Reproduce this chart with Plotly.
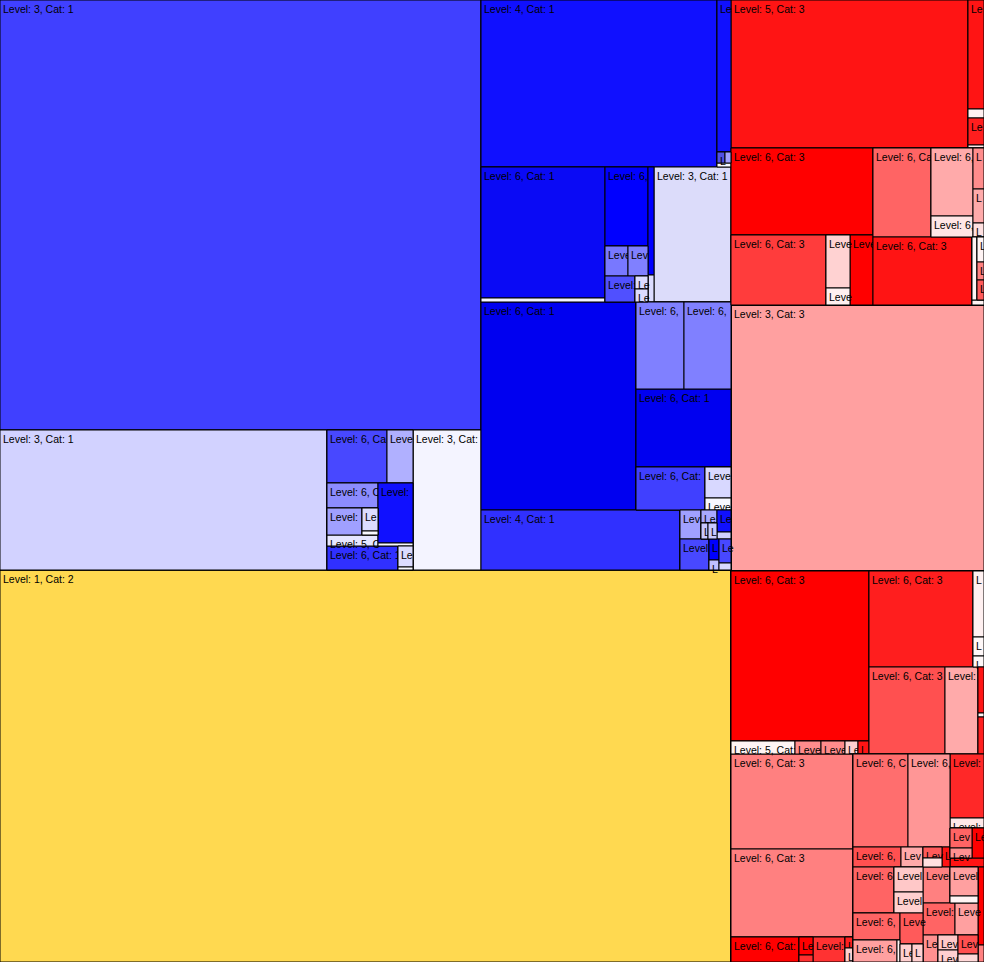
import plotly.graph_objects as go

L6B = "Level: 6, Cat: 1"
L6R = "Level: 6, Cat: 3"
FONT_SIZE = 10.5
WIDTH, HEIGHT = 984, 962

# ---- Cat 1 (blue) leaves: path, value (area), colour, label ----
blue_paths = [
    "L/B/BL/B1", "L/B/BL/Bb/B2",
    "L/B/BL/Bb/B3/t/a", "L/B/BL/Bb/B3/t/b",
    "L/B/BL/Bb/B3/m/l/c", "L/B/BL/Bb/B3/m/l/m/e", "L/B/BL/Bb/B3/m/l/m/r/f", "L/B/BL/Bb/B3/m/l/m/r/g",
    "L/B/BL/Bb/B3/m/l/h", "L/B/BL/Bb/B3/m/r/d", "L/B/BL/Bb/B3/m/r/i",
    "L/B/BL/Bb/B3/b/j", "L/B/BL/Bb/B3/b/r/k", "L/B/BL/Bb/B3/b/r/l",
    "L/B/BL/Bb/B4",
    "L/B/BR/r1/a", "L/B/BR/r1/s/s1", "L/B/BR/r1/s/s2/a", "L/B/BR/r1/s/s2/b", "L/B/BR/r1/s/s3",
    "L/B/BR/r2/c1/a", "L/B/BR/r2/c1/w",
    "L/B/BR/r2/c2/m1", "L/B/BR/r2/c2/m2/a", "L/B/BR/r2/c2/m2/b", "L/B/BR/r2/c2/m3/a",
    "L/B/BR/r2/c2/m3/b/x", "L/B/BR/r2/c2/m3/b/y",
    "L/B/BR/r2/c3/q1", "L/B/BR/r2/c3/q2", "L/B/BR/r2/c4",
    "L/B/BR/r3/a", "L/B/BR/r3/r/t/u1", "L/B/BR/r3/r/t/u2", "L/B/BR/r3/r/u3",
    "L/B/BR/r3/r/b/u4", "L/B/BR/r3/r/b/s/u5", "L/B/BR/r3/r/b/s/u6",
    "L/B/BR/r4/a", "L/B/BR/r4/r/t/v1", "L/B/BR/r4/r/t/b/v2", "L/B/BR/r4/r/t/b/c/v3",
    "L/B/BR/r4/r/t/b/c/v4", "L/B/BR/r4/r/t/c/v5", "L/B/BR/r4/r/t/c/v6",
    "L/B/BR/r4/r/b/v7", "L/B/BR/r4/r/b/b/v8", "L/B/BR/r4/r/b/b/v9",
    "L/B/BR/r4/r/b/c/v10", "L/B/BR/r4/r/b/c/v11",
]
blue_values = [
    206830, 45780,
    3180, 1378,
    1275, 945, 368, 64,
    561, 2100, 105,
    1704, 315, 45,
    9520,
    39412, 2128, 88, 66, 56,
    16244, 496,
    3397, 690, 600, 780,
    169, 169,
    648, 162, 10395,
    32240, 4176, 4089, 7410,
    2967, 806, 312,
    11940, 609, 208, 112,
    144, 308, 98,
    899, 210, 100,
    288, 84,
]
blue_colors = [
    "#4040ff", "#d2d2ff",
    "#4848ff", "#b0b0ff",
    "#8c8cff", "#a0a0ff", "#dcdcff", "#f8f8ff",
    "#e6e6ff", "#1010ff", "#f8f8ff",
    "#3030ff", "#dcdcff", "#f8f8ff",
    "#f4f4ff",
    "#1010ff", "#1010ff", "#5050e6", "#a0a0ff", "#f8f8ff",
    "#0a0af5", "#f4f4ff",
    "#0000ff", "#7878ff", "#8080ff", "#5050ff",
    "#dcdcff", "#dcdcff",
    "#0000ff", "#dcdcff", "#dcdcfa",
    "#0000f0", "#8080ff", "#8080ff", "#0000f0",
    "#4040ff", "#d8d8ff", "#f8f8ff",
    "#3030ff", "#a0a0ff", "#a8a8ff", "#c8c8ff",
    "#c8c8ff", "#1010ff", "#d0d0ff",
    "#4848ff", "#0000ff", "#c0c0ff",
    "#4848ff", "#d8d8ff",
]
blue_labels = [
    "Level: 3, Cat: 1", "Level: 3, Cat: 1",
    L6B, L6B,
    L6B, L6B, L6B, L6B,
    "Level: 5, Cat: 1", L6B, L6B,
    L6B, L6B, L6B,
    "Level: 3, Cat: 1",
    "Level: 4, Cat: 1", L6B, L6B, L6B, L6B,
    L6B, "Level: 5, Cat: 1",
    L6B, L6B, L6B, L6B,
    L6B, L6B,
    L6B, L6B, "Level: 3, Cat: 1",
    L6B, L6B, L6B, L6B,
    L6B, L6B, L6B,
    "Level: 4, Cat: 1", L6B, L6B, L6B,
    L6B, L6B, L6B,
    L6B, L6B, L6B,
    L6B, L6B,
]

# ---- Cat 2 (yellow) ----
yellow_paths = ["L/Y"]
yellow_values = [286552]
yellow_colors = ["#ffd950"]
yellow_labels = ["Level: 1, Cat: 2"]

# ---- Cat 3 (red) leaves ----
red_paths = [
    "R/t/0/r1/w1", "R/t/0/r1/s/x1", "R/t/0/r1/s/x2", "R/t/0/r1/s/x3", "R/t/0/r1/s/x4",
    "R/t/0/r2/L/y1", "R/t/0/r2/L/b/y2", "R/t/0/r2/L/b/m/y3", "R/t/0/r2/L/b/m/y4", "R/t/0/r2/L/b/y5",
    "R/t/0/r2/R/t/z1", "R/t/0/r2/R/t/m/z2", "R/t/0/r2/R/t/m/z3",
    "R/t/0/r2/R/t/s/z4", "R/t/0/r2/R/t/s/z5", "R/t/0/r2/R/t/s/z6",
    "R/t/0/r2/R/b/z7", "R/t/0/r2/R/b/s/a/z8", "R/t/0/r2/R/b/s/a/c/z9",
    "R/t/0/r2/R/b/s/a/c/z10", "R/t/0/r2/R/b/s/a/c/z11", "R/t/0/r2/R/b/s/z12",
    "R/m",
    "R/b/0/r1/L/p1", "R/b/0/r1/L/b/p2", "R/b/0/r1/L/b/p3", "R/b/0/r1/L/b/p4",
    "R/b/0/r1/L/b/p5", "R/b/0/r1/L/b/p6",
    "R/b/0/r1/R/t/o1", "R/b/0/r1/R/t/s/o2", "R/b/0/r1/R/t/s/o3", "R/b/0/r1/R/t/s/o4",
    "R/b/0/r1/R/b/o5", "R/b/0/r1/R/b/o6", "R/b/0/r1/R/b/s/o7", "R/b/0/r1/R/b/s/o8",
    "R/b/0/r1/R/b/s/o9",
    "R/b/0/r2/L/c1", "R/b/0/r2/L/c2", "R/b/0/r2/L/b/c3", "R/b/0/r2/L/b/s/c4",
    "R/b/0/r2/L/b/s/c5", "R/b/0/r2/L/b/c6", "R/b/0/r2/L/b/e/c7", "R/b/0/r2/L/b/e/c8",
    "R/b/0/r2/R/t/a/t/n1", "R/b/0/r2/R/t/a/t/n2", "R/b/0/r2/R/t/a/b/n3",
    "R/b/0/r2/R/t/a/b/n4", "R/b/0/r2/R/t/a/b/s/n5", "R/b/0/r2/R/t/a/b/s/n6",
    "R/b/0/r2/R/t/a/b/n7",
    "R/b/0/r2/R/t/c/n8", "R/b/0/r2/R/t/c/n9", "R/b/0/r2/R/t/c/d/s/n10",
    "R/b/0/r2/R/t/c/d/s/n11", "R/b/0/r2/R/t/c/d/n12", "R/b/0/r2/R/t/c/n13",
    "R/b/0/r2/R/b/a/t/k1", "R/b/0/r2/R/b/a/t/s/k2", "R/b/0/r2/R/b/a/t/s/k3",
    "R/b/0/r2/R/b/a/b/l/k4", "R/b/0/r2/R/b/a/b/l/d/k5", "R/b/0/r2/R/b/a/b/l/d/k6",
    "R/b/0/r2/R/b/a/b/r/k7", "R/b/0/r2/R/b/a/b/r/d/k8", "R/b/0/r2/R/b/a/b/r/d/k9",
    "R/b/0/r2/R/b/c/r1/k10", "R/b/0/r2/R/b/c/r1/s/k11", "R/b/0/r2/R/b/c/r1/s/k12",
    "R/b/0/r2/R/b/c/r2/k13", "R/b/0/r2/R/b/c/r2/k14",
    "R/b/0/r2/R/b/c/r3/k15", "R/b/0/r2/R/b/c/r3/s/k16", "R/b/0/r2/R/b/c/r3/s/k17",
    "R/b/0/r2/R/b/c/r3/u/k18", "R/b/0/r2/R/b/c/r3/u/k19",
    "R/b/0/r2/R/b/e/k20", "R/b/0/r2/R/b/e/k21",
]
red_values = [
    35076, 1744, 144, 432, 48,
    12354, 6650, 1272, 408, 1610,
    5162, 2856, 882,
    451, 374, 154,
    6732, 315, 175,
    126, 140, 60,
    67298,
    23460, 832, 338, 312,
    169, 143,
    9984, 726, 209, 121,
    6612, 2871, 276, 24,
    222,
    11590, 10736, 1700, 252,
    98, 800, 88, 112,
    5115, 3906, 960,
    440, 209, 171,
    160,
    2176, 340, 440,
    220, 360, 306,
    1886, 725, 609,
    1269, 968, 66,
    713, 216, 198,
    972, 812, 196,
    1024, 736,
    405, 300, 240,
    380, 160,
    468, 102,
]
red_colors = [
    "#ff1414", "#ff1414", "#fff0f0", "#ff1e1e", "#ffe8e8",
    "#ff0000", "#ff3c3c", "#ffd2d2", "#fff0f0", "#ff0000",
    "#ff6464", "#ffaaaa", "#ffe6e6",
    "#ff8c8c", "#ffaaaa", "#ffe0e0",
    "#ff1414", "#fff4f4", "#fff4f4",
    "#ff8080", "#ff5a5a", "#fff4f4",
    "#ffa0a0",
    "#ff0000", "#fff4f4", "#ff8c8c", "#ff8c8c",
    "#ffd0d0", "#ff1414",
    "#ff1e1e", "#fff0f0", "#fff8f8", "#fff8f8",
    "#ff5050", "#ffaaaa", "#ff1414", "#fff4f4",
    "#ff1e1e",
    "#ff8080", "#ff8080", "#ff0000", "#ff0000",
    "#ff3030", "#ff3232", "#ff2020", "#ffd0d0",
    "#ff6e6e", "#ff9696", "#ff5050",
    "#ffaaaa", "#ff5a5a", "#ffe0e0",
    "#ff1414",
    "#ff2828", "#ffe8e8", "#ff6464",
    "#ff9090", "#ff0000", "#ff1414",
    "#ff6464", "#ffc8c8", "#ffd0d0",
    "#ff6464", "#ffa0a0", "#fff4f4",
    "#ff5a5a", "#ffd0d0", "#ffd0d0",
    "#ff8080", "#ffa0a0", "#fff4f4",
    "#ff6464", "#ffa0a0",
    "#ff9090", "#ffc8c8", "#ffd0d0",
    "#ff5050", "#ffd8d8",
    "#ff0000", "#ff8080",
]
red_labels = (
    ["Level: 5, Cat: 3"] + [L6R] * 21
    + ["Level: 3, Cat: 3"]
    + [L6R, "Level: 5, Cat: 3"] + [L6R] * (len(red_paths) - 25)
)

# ---- build the hierarchy (internal nodes are implied by the paths) ----
leaf_paths = blue_paths + yellow_paths + red_paths
leaf_values = blue_values + yellow_values + red_values
leaf_colors = blue_colors + yellow_colors + red_colors
leaf_labels = blue_labels + yellow_labels + red_labels

ids, parents, labels, values, colors = ["root"], [""], ["root"], [0], ["#ffffff"]
seen = {"root"}
for path, val, col, lab in zip(leaf_paths, leaf_values, leaf_colors, leaf_labels):
    segs = path.split("/")
    for k in range(1, len(segs)):
        pid = "/".join(segs[:k])
        if pid not in seen:
            seen.add(pid)
            ids.append(pid)
            parents.append("/".join(segs[:k - 1]) or "root")
            labels.append(pid)
            values.append(0)
            colors.append("#ffffff")
    ids.append(path)
    parents.append("/".join(segs[:-1]) or "root")
    labels.append(lab)
    values.append(val)
    colors.append(col)

# Labels are clipped to their cell like the original: estimate each cell's size
# with the same slice-dice split that plotly uses, then keep the characters that fit.
kids = {}
for i, p in zip(ids, parents):
    kids.setdefault(p, []).append(i)
own = dict(zip(ids, values))
tot = {}
def total(n):
    if n not in tot:
        tot[n] = own[n] + sum(total(c) for c in kids.get(n, []))
    return tot[n]
total("root")
size = {}
def split(n, w, h, depth):
    size[n] = (w, h)
    for c in kids.get(n, []):
        f = tot[c] / tot[n]
        if depth % 2 == 0:
            split(c, w * f, h, depth + 1)
        else:
            split(c, w, h * f, depth + 1)
split("root", WIDTH, HEIGHT, 0)

CHAR_W = {"L": 556, "e": 556, "v": 500, "l": 222, ":": 278, " ": 278, ",": 278,
          "C": 722, "a": 556, "t": 278}
def clip(label, w, h):
    if h < 10 or w < 7:
        return ""
    avail = w - 3
    out, used = "", 0.0
    for ch in label:
        cw = CHAR_W.get(ch, 556) * FONT_SIZE / 1000
        if used + 0.5 * cw > avail:
            break
        out += ch
        used += cw
    return out

leafset = set(leaf_paths)
texts = [clip(l, *size[i]) if i in leafset else "" for i, l in zip(ids, labels)]

fig = go.Figure(go.Treemap(
    ids=ids, parents=parents, labels=labels, values=values, text=texts,
    branchvalues="remainder", sort=False,
    texttemplate="%{text}", textposition="top left",
    textfont=dict(family="Liberation Sans, Arial, sans-serif", size=FONT_SIZE, color="black"),
    marker=dict(colors=colors, line=dict(color="black", width=1),
                pad=dict(t=0, l=0, r=0, b=0), depthfade=False),
    tiling=dict(packing="slice-dice", pad=0),
    pathbar=dict(visible=False),
    hoverinfo="skip",
))
fig.update_layout(
    width=WIDTH, height=HEIGHT, margin=dict(l=0, r=0, t=0, b=0),
    paper_bgcolor="white", hovermode=False,
    uniformtext=dict(minsize=FONT_SIZE, mode="show"),
)
fig.write_html("out.html", config={"displayModeBar": False})
